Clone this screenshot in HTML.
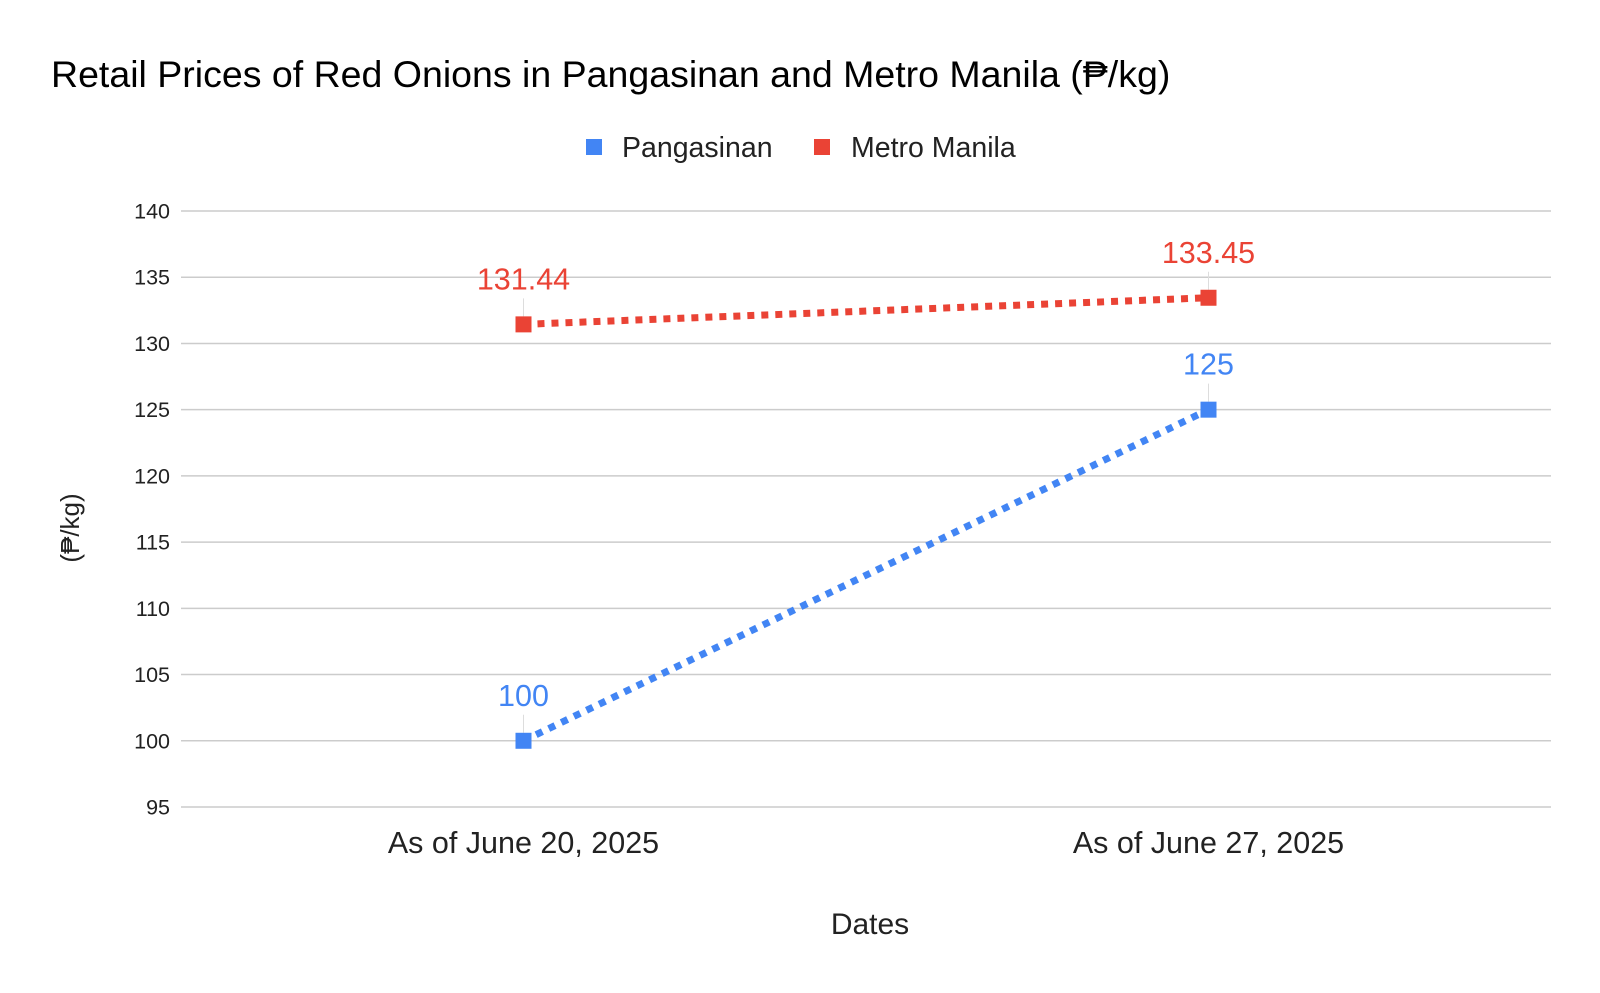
<!DOCTYPE html>
<html><head><meta charset="utf-8"><style>
body{margin:0;background:#fff;}
svg text{font-family:"Liberation Sans",Arial,sans-serif;}
</style></head><body>
<svg width="1600" height="988">
<text x="51" y="87" font-size="37.5" fill="#000">Retail Prices of Red Onions in Pangasinan and Metro Manila (₱/kg)</text>
<g>
<rect x="586" y="139" width="16" height="16" fill="#4285f4"/>
<text x="622" y="157" font-size="28.5" fill="#222">Pangasinan</text>
<rect x="814" y="139" width="16" height="16" fill="#ea4335"/>
<text x="851" y="157" font-size="28.5" fill="#222">Metro Manila</text>
</g>
<g id="grid"></g><g id="series"></g>
<text transform="translate(79,528) rotate(-90)" text-anchor="middle" font-size="26" fill="#222">(₱/kg)</text>
<text x="870" y="934" text-anchor="middle" font-size="30" fill="#222">Dates</text>
</svg>
<script>
const categories=["As of June 20, 2025","As of June 27, 2025"];
const pangasinan=[100,125];
const metroManila=[131.44,133.45];
const yTicks=[95,100,105,110,115,120,125,130,135,140];
const ns="http://www.w3.org/2000/svg";
const x0=181,x1=1551,yMin=95,yMax=140,yTop=211,yBot=807;
const y=v=>yBot-(v-yMin)/(yMax-yMin)*(yBot-yTop);
const xs=i=>x0+(x1-x0)*(i+0.5)/categories.length;
function mk(tag,attrs,parent){const e=document.createElementNS(ns,tag);for(const k in attrs)e.setAttribute(k,attrs[k]);parent.appendChild(e);return e;}
const grid=document.getElementById('grid');
yTicks.forEach(t=>{
 const l=mk('line',{x1:x0,x2:x1,y1:y(t),y2:y(t),stroke:'#ccc','stroke-width':1.5},grid);
 
 
 const tx=mk('text',{x:170,y:y(t)+7.5,'text-anchor':'end','font-size':21.5,fill:'#222'},grid);
 tx.textContent=t;
 
 
});
categories.forEach((c,i)=>{
 const tx=mk('text',{x:xs(i),y:853,'text-anchor':'middle','font-size':30.5,fill:'#222'},grid);
 tx.textContent=c;
 
 
});
const ser=document.getElementById('series');
function draw(vals,color,name,fmt){
 const pts=vals.map((v,i)=>xs(i)+','+y(v)).join(' ');
 const pl=mk('polyline',{points:pts,fill:'none',stroke:color,'stroke-width':7,'stroke-dasharray':'7 7'},ser);
 
 
 vals.forEach((v,i)=>{
  mk('line',{x1:xs(i),x2:xs(i),y1:y(v)-8,y2:y(v)-26,stroke:'#ddd','stroke-width':1},ser);
  const r=mk('rect',{x:xs(i)-8,y:y(v)-8,width:16,height:16,fill:color},ser);
  
  
  const t=mk('text',{x:xs(i),y:y(v)-35,'text-anchor':'middle','font-size':30.5,fill:color},ser);
  t.textContent=fmt(v);
  
  
 });
}
draw(metroManila,'#ea4335','metro-manila',v=>v.toFixed(2));
draw(pangasinan,'#4285f4','pangasinan',v=>String(v));
</script>
</body></html>
